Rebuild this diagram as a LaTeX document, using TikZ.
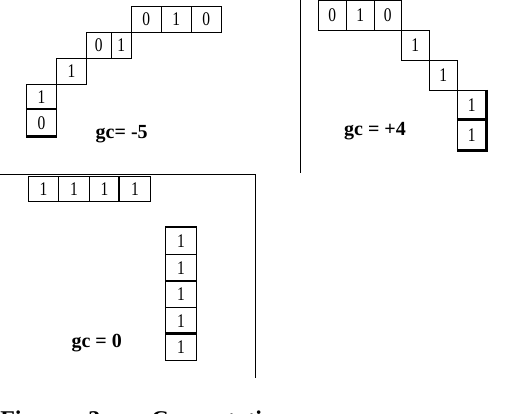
\documentclass[tikz,border=0pt]{standalone}
\usepackage{fontspec}
\setmainfont{Liberation Serif}
\newfontfamily\digitfont[FakeStretch=0.8]{Liberation Serif}
\tikzset{x=.75pt,y=-.75pt,cell/.style={draw,line width=.75pt,inner sep=0pt,font=\digitfont\fontsize{14.5}{15}\selectfont},
thk/.style={line width=1.6pt},rule/.style={line width=.8pt},gclabel/.style={font=\fontsize{15}{16}\selectfont\bfseries},
caption/.style={anchor=base west,inner sep=0pt,font=\fontsize{18}{20}\selectfont\bfseries}}
\newcommand{\cell}[6]{\node[cell,minimum width={(#4-#2)*.75pt},minimum height={(#5-#3)*.75pt}] (#1) at ({(#2+#4)/2},{(#3+#5)/2}) {#6};}
\begin{document}
\begin{tikzpicture}
\useasboundingbox (0,0) rectangle (532,414);
\cell{p1a}{131.3}{6}{161.3}{32.3}{0}\cell{p1b}{161.3}{6}{191.3}{32.3}{1}\cell{p1c}{191.3}{6}{221.3}{32.3}{0}
\cell{p1d}{86.3}{32.3}{111.3}{58.3}{0}\cell{p1e}{111.3}{32.3}{131.3}{58.3}{1}
\cell{p1f}{56.7}{58.3}{86.3}{84.3}{1}
\cell{p1g}{26.3}{84.3}{56.7}{109.7}{1}\cell{p1h}{26.3}{109.7}{56.7}{136}{0}
\draw[thk] (p1h.north west)--(p1h.north east) (p1h.south west)--(p1h.south east);
\node[gclabel] (gc1) at (121.7,134.5) {gc= -5};
\draw[rule] (300.3,0)--(300.3,173);
\cell{p2a}{318.3}{0.7}{346.3}{30.3}{0}\cell{p2b}{346.3}{0.7}{374.3}{30.3}{1}\cell{p2c}{374.3}{0.7}{401}{30.3}{0}
\cell{p2d}{401}{30.3}{429.3}{60.3}{1}
\cell{p2e}{429.3}{60.3}{457.3}{90.3}{1}
\cell{p2f}{457.3}{90.3}{486}{120}{1}\cell{p2g}{457.3}{120}{486}{150}{1}
\draw[thk] (p2f.north east)--(p2g.south east)--(p2g.south west) (p2g.north west)--(p2g.north east);
\node[gclabel] (gc2) at (375,131) {gc = +4};
\draw[rule] (0,174.3)--(255.3,174.3)--(255.3,378.3);
\cell{p3a}{28.3}{176.7}{58.7}{201.3}{1}\cell{p3b}{58.7}{176.7}{89.3}{201.3}{1}
\cell{p3c}{89.3}{176.7}{119.7}{201.3}{1}\cell{p3d}{119.7}{176.7}{150.3}{201.3}{1}
\draw[thk] (p3d.north west)--(p3d.south west);
\cell{p3e}{165.7}{227.7}{196.3}{254.7}{1}\cell{p3f}{165.7}{254.7}{196.3}{281.3}{1}
\cell{p3g}{165.7}{281.3}{196.3}{307.7}{1}\cell{p3h}{165.7}{307.7}{196.3}{334}{1}
\cell{p3i}{165.7}{334}{196.3}{360}{1}
\draw[thk] (p3e.north west)--(p3e.north east) (p3g.north west)--(p3g.north east) (p3i.north west)--(p3i.north east);
\node[gclabel] (gc3) at (96.7,343) {gc = 0};
\node[caption] (fig) at (0,427) {Figure};\node[caption] (num) at (88,427) {3};
\node[caption] (title) at (151,427) {Computation};
\end{tikzpicture}
\end{document}
